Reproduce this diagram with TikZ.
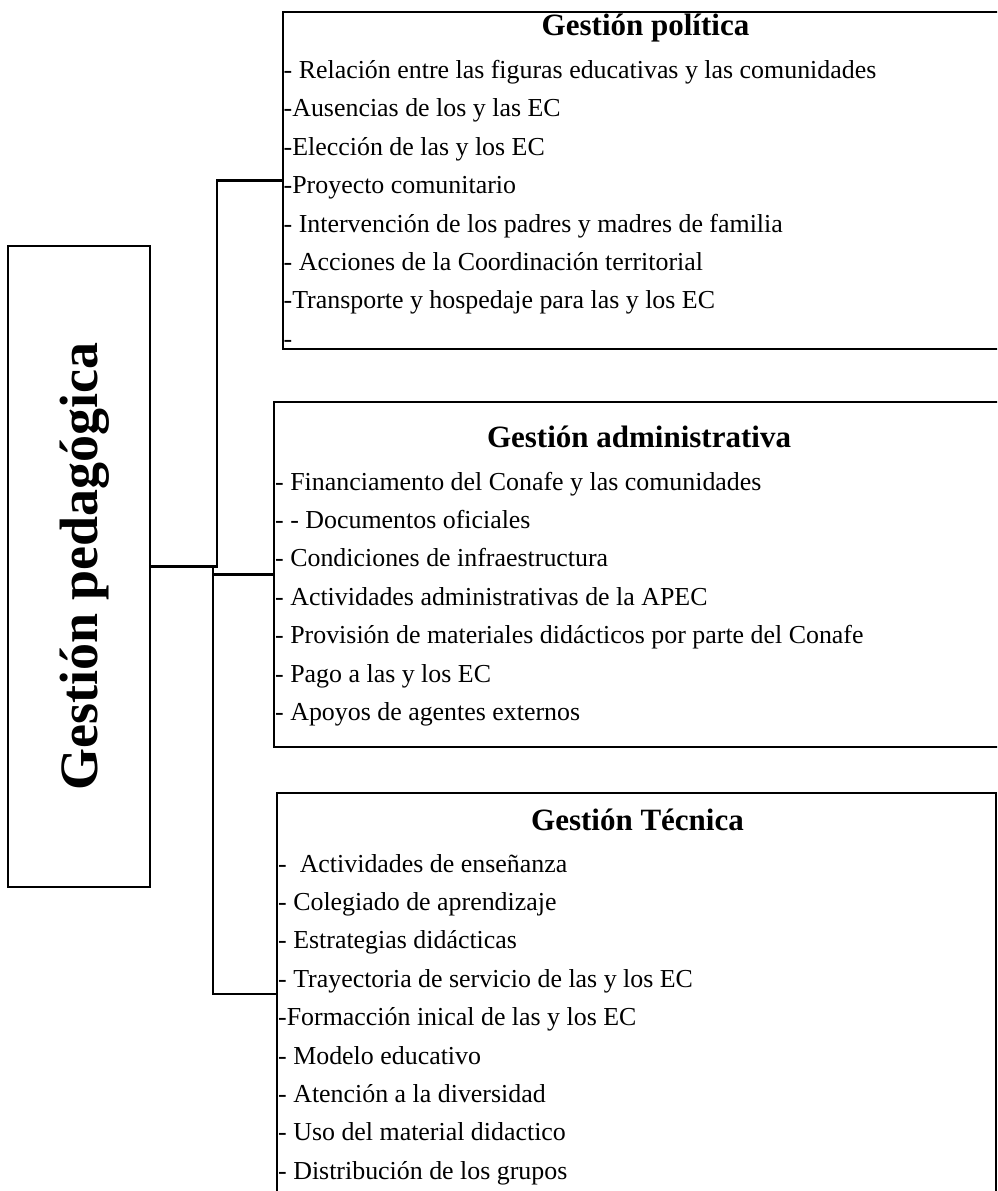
\documentclass[tikz,border=0pt]{standalone}
\usepackage{fontspec}
\setmainfont{Liberation Serif}
\begin{document}
\begin{tikzpicture}[x=1pt,y=-1pt,
  frame/.style={draw, line width=2.5pt, inner sep=0pt, outer sep=0pt, anchor=north west},
  link/.style={draw, line width=2.2pt},
  item/.style={anchor=base west, inner sep=0pt, font=\fontsize{25.9}{30}\selectfont},
  head/.style={anchor=base, inner sep=0pt, font=\fontsize{31}{36}\selectfont\bfseries},
  root/.style={anchor=base, inner sep=0pt, rotate=90, font=\fontsize{54}{60}\selectfont\bfseries},
]
\useasboundingbox (0,0) rectangle (997,1191);
\begin{scope}
\clip (0,0) rectangle (997,1191);

% main box on the left
\node[frame, minimum width=142pt, minimum height=641pt] (b0) at (8,246) {};
\node[root] (r0) at (97,566.5) {Gestión pedagógica};

% the three branch boxes (they run past the right and bottom edges)
\node[frame, minimum width=817pt, minimum height=337pt] (b1) at (283,12) {};
\node[frame, minimum width=826pt, minimum height=345pt] (b2) at (274,402) {};
\node[frame, minimum width=719pt, minimum height=402pt] (b3) at (277,793) {};

% connectors
\coordinate (fork) at (213,566.5);
\draw[link] (b1.west) -| (217,566.5) -- (b0.east);
\draw[link] (fork) |- (b2.west);
\draw[link] (fork) |- (b3.west);

% Gestión política
\node[head] (h1) at (645.5,35) {Gestión política};
\node[item] (p1) at (283.5,78)    {- Relación entre las figuras educativas y las comunidades};
\node[item] (p2) at (283.5,116.5) {-Ausencias de los y las EC};
\node[item] (p3) at (283.5,155)   {-Elección de las y los EC};
\node[item] (p4) at (283.5,193.5) {-Proyecto comunitario};
\node[item] (p5) at (283.5,232)   {- Intervención de los padres y madres de familia};
\node[item] (p6) at (283.5,270)   {- Acciones de la Coordinación territorial};
\node[item] (p7) at (283.5,308.5) {-Transporte y hospedaje para las y los EC};
\node[item] (p8) at (283.5,347)   {-};

% Gestión administrativa
\node[head] (h2) at (639,447) {Gestión administrativa};
\node[item] (a1) at (275,490)   {- Financiamento del Conafe y las comunidades};
\node[item] (a2) at (275,528.4) {- - Documentos oficiales};
\node[item] (a3) at (275,566.8) {- Condiciones de infraestructura};
\node[item] (a4) at (275,605.2) {- Actividades administrativas de la APEC};
\node[item] (a5) at (275,643.6) {- Provisión de materiales didácticos por parte del Conafe};
\node[item] (a6) at (275,682)   {- Pago a las y los EC};
\node[item] (a7) at (275,720.4) {- Apoyos de agentes externos};

% Gestión Técnica
\node[head] (h3) at (637.5,830) {Gestión Técnica};
\node[item] (t1) at (278,872)    {-\ \ Actividades de enseñanza};
\node[item] (t2) at (278,910.4)  {- Colegiado de aprendizaje};
\node[item] (t3) at (278,948.8)  {- Estrategias didácticas};
\node[item] (t4) at (278,987.2)  {- Trayectoria de servicio de las y los EC};
\node[item] (t5) at (278,1025.6) {-Formacción inical de las y los EC};
\node[item] (t6) at (278,1064)   {- Modelo educativo};
\node[item] (t7) at (278,1102.4) {- Atención a la diversidad};
\node[item] (t8) at (278,1140.8) {- Uso del material didactico};
\node[item] (t9) at (278,1179.2) {- Distribución de los grupos};
\end{scope}
\end{tikzpicture}
\end{document}
